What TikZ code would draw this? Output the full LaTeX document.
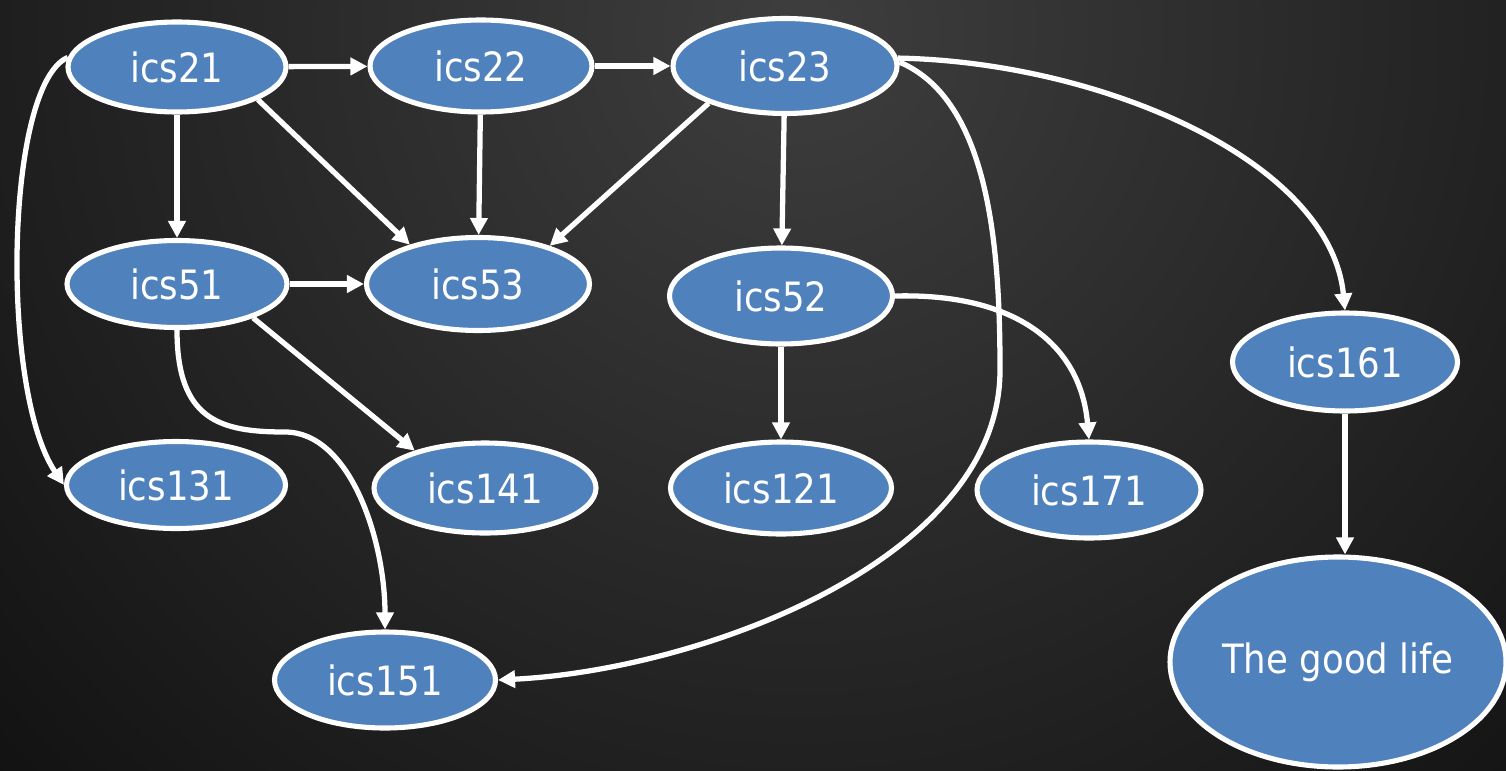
\documentclass[tikz,border=0pt]{standalone}
\usepackage{fontspec}
\setmainfont{DejaVu Sans}[FakeStretch=0.88]
\usetikzlibrary{shapes.geometric,arrows.meta}
\definecolor{nodeblue}{RGB}{79,129,189}
\definecolor{bginner}{RGB}{62,62,62}
\definecolor{bgouter}{RGB}{16,16,16}
\tikzset{
  course/.style={ellipse, draw=white, line width=2.9pt, fill=nodeblue, text=white,
    font=\fontsize{23}{27}\selectfont, inner sep=0pt},
  arr/.style={draw=white, line width=3pt, -{Triangle[length=0.34cm,width=0.34cm]}}
}
\begin{document}
\begin{tikzpicture}[x=0.02cm,y=-0.02cm]
\useasboundingbox (0,0) rectangle (1506,770);
\begin{scope}
\clip (0,0) rectangle (1506,770);
\fill[bgouter] (0,0) rectangle (1506,770);
\shade[inner color=bginner, outer color=bgouter] (800,30) circle (1150);
\end{scope}

\node[course, minimum width=218*0.02cm, minimum height=90*0.02cm] (ics21) at (177,67) {ics21};
\node[course, minimum width=222*0.02cm, minimum height=92*0.02cm] (ics22) at (481,66) {ics22};
\node[course, minimum width=224*0.02cm, minimum height=95*0.02cm] (ics23) at (785,66) {ics23};
\node[course, minimum width=220*0.02cm, minimum height=87*0.02cm] (ics51) at (177,284) {ics51};
\node[course, minimum width=223*0.02cm, minimum height=93*0.02cm] (ics53) at (478,284) {ics53};
\node[course, minimum width=223*0.02cm, minimum height=96*0.02cm] (ics52) at (781,296) {ics52};
\node[course, minimum width=225*0.02cm, minimum height=98*0.02cm] (ics161) at (1345,362) {ics161};
\node[course, minimum width=219*0.02cm, minimum height=87*0.02cm] (ics131) at (176,485) {ics131};
\node[course, minimum width=222*0.02cm, minimum height=90*0.02cm] (ics141) at (485,488) {ics141};
\node[course, minimum width=221*0.02cm, minimum height=92*0.02cm] (ics121) at (781,488) {ics121};
\node[course, minimum width=224*0.02cm, minimum height=96*0.02cm] (ics171) at (1089,490) {ics171};
\node[course, minimum width=221*0.02cm, minimum height=96*0.02cm] (ics151) at (385,680) {ics151};
\node[course, minimum width=336*0.02cm, minimum height=210*0.02cm] (good) at (1338,662) {The good life};

\draw[arr] (ics21) -- (ics22);
\draw[arr] (ics22) -- (ics23);
\draw[arr] (ics21) -- (ics51);
\draw[arr] (ics21.-22) -- (ics53.150);
\draw[arr] (ics22) -- (ics53);
\draw[arr] (ics23.206) -- (ics53.28);
\draw[arr] (ics23) -- (ics52);
\draw[arr] (ics51) -- (ics53);
\draw[arr] (ics51.-24) -- (ics141.152);
\draw[arr] (ics52) -- (ics121);
\draw[arr] (ics161.south) -- (ics161.south |- good.north);
\draw[arr] (ics21.175) .. controls (5,85) and (0,390) .. (ics131.west);
\draw[arr] (ics51.south) .. controls (177,420) and (220,432) .. (285,432)
  .. controls (350,432) and (385,540) .. (ics151.north);
\draw[arr] (ics52.east) .. controls (1010,293) and (1080,340) .. (ics171.north);
\draw[arr] (ics23.4) .. controls (1100,62) and (1330,160) .. (ics161.north);
\draw[arr] (ics23.2) .. controls (990,100) and (1000,250) .. (1000,370)
  .. controls (1000,560) and (700,670) .. (ics151.east);
\end{tikzpicture}
\end{document}
